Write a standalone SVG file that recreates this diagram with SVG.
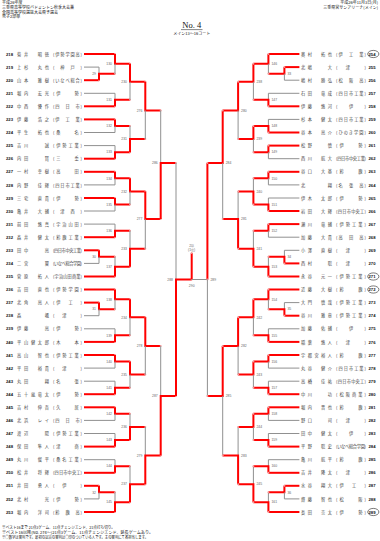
<svg xmlns="http://www.w3.org/2000/svg" width="380" height="541" viewBox="0 0 380 541">
<defs>
<marker id="dot" markerUnits="userSpaceOnUse" markerWidth="4" markerHeight="4" refX="2" refY="2" viewBox="0 0 4 4"><circle cx="2" cy="2" r="1" fill="#f49b9b"/></marker>
<style>
.r{stroke:#f00;stroke-width:2;fill:none;marker-end:url(#dot)}
.g{stroke:#909090;stroke-width:1;fill:none}
.t{font-family:"Noto Sans CJK JP",sans-serif;font-size:4.2px;fill:#444}
.h{font-family:"Noto Sans CJK JP",sans-serif;font-size:4px;fill:#111}
.n{font-family:"Liberation Sans",sans-serif;font-size:4.2px;font-weight:bold;fill:#111}
.m{font-family:"Liberation Sans",sans-serif;font-size:3.4px;fill:#666}
.ml{text-anchor:end}
</style>
</defs>
<rect width="380" height="541" fill="#fff"/>
<g id="header">
<text class="h" x="2" y="4.4">平成26年度</text>
<text class="h" x="2" y="9">三重県高等学校バドミントン秋季大会兼</text>
<text class="h" x="2" y="13.6">全国高等学校選抜大会県予選会</text>
<text class="h" x="2" y="18.2">男子2部単</text>
<text class="h" x="378" y="4.4" text-anchor="end">平成26年11月3日(月)</text>
<text class="h" x="378" y="9" text-anchor="end">三重県営サンアリーナ(メイン)</text>
<text x="191.7" y="28" text-anchor="middle" font-family="Liberation Serif,serif" font-size="8.5" fill="#111">No. 4</text>
<line x1="181" y1="29.6" x2="202.5" y2="29.6" stroke="#111" stroke-width="0.5"/>
<text class="h" x="191.7" y="35" text-anchor="middle" font-size="3.6">メイン13～16コート</text>
</g>
<g id="players-left">
<g id="p218"><text class="n" x="6" y="55.6">218</text><text class="t" x="17" y="55.6" textLength="32" lengthAdjust="spacing">菊井　昭徳</text><text class="t" x="53" y="55.6" textLength="29" lengthAdjust="spacing">(伊勢学園高)</text></g>
<g id="p219"><text class="n" x="6" y="68.7">219</text><text class="t" x="17" y="68.7" textLength="32" lengthAdjust="spacing">上杉　丸也</text><text class="t" x="53" y="68.7" textLength="29" lengthAdjust="spacing">(　神　戸　)</text></g>
<g id="p220"><text class="n" x="6" y="81.8">220</text><text class="t" x="17" y="81.8" textLength="32" lengthAdjust="spacing">山本　雅樹</text><text class="t" x="53" y="81.8" textLength="29" lengthAdjust="spacing">(いなべ総合)</text></g>
<g id="p221"><text class="n" x="6" y="94.9">221</text><text class="t" x="17" y="94.9" textLength="32" lengthAdjust="spacing">堀内　宏光</text><text class="t" x="53" y="94.9" textLength="29" lengthAdjust="spacing">(伊　　勢)</text></g>
<g id="p222"><text class="n" x="6" y="107.9">222</text><text class="t" x="17" y="107.9" textLength="32" lengthAdjust="spacing">中西　優作</text><text class="t" x="53" y="107.9" textLength="29" lengthAdjust="spacing">(四　日　市)</text></g>
<g id="p223"><text class="n" x="6" y="121">223</text><text class="t" x="17" y="121" textLength="32" lengthAdjust="spacing">伊藤　浩之</text><text class="t" x="53" y="121" textLength="29" lengthAdjust="spacing">(伊　工　業)</text></g>
<g id="p224"><text class="n" x="6" y="134.1">224</text><text class="t" x="17" y="134.1" textLength="32" lengthAdjust="spacing">平生　拓也</text><text class="t" x="53" y="134.1" textLength="29" lengthAdjust="spacing">(桑　　名)</text></g>
<g id="p225"><text class="n" x="6" y="147.2">225</text><text class="t" x="17" y="147.2" textLength="32" lengthAdjust="spacing">吉川　　誠</text><text class="t" x="53" y="147.2" textLength="29" lengthAdjust="spacing">(伊勢工業)</text></g>
<g id="p226"><text class="n" x="6" y="160.3">226</text><text class="t" x="17" y="160.3" textLength="32" lengthAdjust="spacing">内田　　賢</text><text class="t" x="53" y="160.3" textLength="29" lengthAdjust="spacing">(三　　重)</text></g>
<g id="p227"><text class="n" x="6" y="173.4">227</text><text class="t" x="17" y="173.4" textLength="32" lengthAdjust="spacing">一村　幸樹</text><text class="t" x="53" y="173.4" textLength="29" lengthAdjust="spacing">(高　　田)</text></g>
<g id="p228"><text class="n" x="6" y="186.5">228</text><text class="t" x="17" y="186.5" textLength="32" lengthAdjust="spacing">内野　佳輝</text><text class="t" x="53" y="186.5" textLength="29" lengthAdjust="spacing">(四日市工業)</text></g>
<g id="p229"><text class="n" x="6" y="199.6">229</text><text class="t" x="17" y="199.6" textLength="32" lengthAdjust="spacing">三宅　直貴</text><text class="t" x="53" y="199.6" textLength="29" lengthAdjust="spacing">(伊　　勢)</text></g>
<g id="p230"><text class="n" x="6" y="212.6">230</text><text class="t" x="17" y="212.6" textLength="32" lengthAdjust="spacing">亀井　大輔</text><text class="t" x="53" y="212.6" textLength="29" lengthAdjust="spacing">(　津　西　)</text></g>
<g id="p231"><text class="n" x="6" y="225.7">231</text><text class="t" x="17" y="225.7" textLength="32" lengthAdjust="spacing">前田　悠真</text><text class="t" x="53" y="225.7" textLength="29" lengthAdjust="spacing">(宇治山田)</text></g>
<g id="p232"><text class="n" x="6" y="238.8">232</text><text class="t" x="17" y="238.8" textLength="32" lengthAdjust="spacing">森井　健太</text><text class="t" x="53" y="238.8" textLength="29" lengthAdjust="spacing">(鈴鹿工業)</text></g>
<g id="p233"><text class="n" x="6" y="251.9">233</text><text class="t" x="17" y="251.9" textLength="32" lengthAdjust="spacing">田中　　亮</text><text class="t" x="53" y="251.9" textLength="29" lengthAdjust="spacing">(四日市中央工業)</text></g>
<g id="p234"><text class="n" x="6" y="265">234</text><text class="t" x="17" y="265" textLength="32" lengthAdjust="spacing">二宮　　翼</text><text class="t" x="53" y="265" textLength="29" lengthAdjust="spacing">(いなべ総合学園)</text></g>
<g id="p235"><text class="n" x="6" y="278.1">235</text><text class="t" x="17" y="278.1" textLength="32" lengthAdjust="spacing">菅原　拓人</text><text class="t" x="53" y="278.1" textLength="29" lengthAdjust="spacing">(宇治山田商業)</text></g>
<g id="p236"><text class="n" x="6" y="291.1">236</text><text class="t" x="17" y="291.1" textLength="32" lengthAdjust="spacing">吉田　直也</text><text class="t" x="53" y="291.1" textLength="29" lengthAdjust="spacing">(伊勢学園)</text></g>
<g id="p237"><text class="n" x="6" y="304.2">237</text><text class="t" x="17" y="304.2" textLength="32" lengthAdjust="spacing">北角　亮人</text><text class="t" x="53" y="304.2" textLength="29" lengthAdjust="spacing">(伊　工　)</text></g>
<g id="p238"><text class="n" x="6" y="317.3">238</text><text class="t" x="17" y="317.3" textLength="32" lengthAdjust="spacing">森　　　颯</text><text class="t" x="53" y="317.3" textLength="29" lengthAdjust="spacing">(　津　　)</text></g>
<g id="p239"><text class="n" x="6" y="330.4">239</text><text class="t" x="17" y="330.4" textLength="32" lengthAdjust="spacing">伊藤　　亮</text><text class="t" x="53" y="330.4" textLength="29" lengthAdjust="spacing">(伊　　勢)</text></g>
<g id="p240"><text class="n" x="6" y="343.5">240</text><text class="t" x="17" y="343.5" textLength="32" lengthAdjust="spacing">平山健太郎</text><text class="t" x="53" y="343.5" textLength="29" lengthAdjust="spacing">(木　　本)</text></g>
<g id="p241"><text class="n" x="6" y="356.6">241</text><text class="t" x="17" y="356.6" textLength="32" lengthAdjust="spacing">高山　智也</text><text class="t" x="53" y="356.6" textLength="29" lengthAdjust="spacing">(伊勢工業)</text></g>
<g id="p242"><text class="n" x="6" y="369.7">242</text><text class="t" x="17" y="369.7" textLength="32" lengthAdjust="spacing">平田　裕貴</text><text class="t" x="53" y="369.7" textLength="29" lengthAdjust="spacing">(　津　　)</text></g>
<g id="p243"><text class="n" x="6" y="382.8">243</text><text class="t" x="17" y="382.8" textLength="32" lengthAdjust="spacing">丸田　　翔</text><text class="t" x="53" y="382.8" textLength="29" lengthAdjust="spacing">(名　　張)</text></g>
<g id="p244"><text class="n" x="6" y="395.8">244</text><text class="t" x="17" y="395.8" textLength="32" lengthAdjust="spacing">五十嵐竜太</text><text class="t" x="53" y="395.8" textLength="29" lengthAdjust="spacing">(伊　　勢)</text></g>
<g id="p245"><text class="n" x="6" y="408.9">245</text><text class="t" x="17" y="408.9" textLength="32" lengthAdjust="spacing">吉村　伸吾</text><text class="t" x="53" y="408.9" textLength="29" lengthAdjust="spacing">(久　　居)</text></g>
<g id="p246"><text class="n" x="6" y="422">246</text><text class="t" x="17" y="422" textLength="32" lengthAdjust="spacing">北浜　レイ</text><text class="t" x="53" y="422" textLength="29" lengthAdjust="spacing">(四　日　市)</text></g>
<g id="p247"><text class="n" x="6" y="435.1">247</text><text class="t" x="17" y="435.1" textLength="32" lengthAdjust="spacing">渡辺　　陽</text><text class="t" x="53" y="435.1" textLength="29" lengthAdjust="spacing">(伊勢工業)</text></g>
<g id="p248"><text class="n" x="6" y="448.2">248</text><text class="t" x="17" y="448.2" textLength="32" lengthAdjust="spacing">保田　隼人</text><text class="t" x="53" y="448.2" textLength="29" lengthAdjust="spacing">(津　　商)</text></g>
<g id="p249"><text class="n" x="6" y="461.3">249</text><text class="t" x="17" y="461.3" textLength="32" lengthAdjust="spacing">丸川　俊平</text><text class="t" x="53" y="461.3" textLength="29" lengthAdjust="spacing">(桑名工業)</text></g>
<g id="p250"><text class="n" x="6" y="474.4">250</text><text class="t" x="17" y="474.4" textLength="32" lengthAdjust="spacing">松井　将輝</text><text class="t" x="53" y="474.4" textLength="29" lengthAdjust="spacing">(四日市中央工)</text></g>
<g id="p251"><text class="n" x="6" y="487.4">251</text><text class="t" x="17" y="487.4" textLength="32" lengthAdjust="spacing">井田　勇人</text><text class="t" x="53" y="487.4" textLength="29" lengthAdjust="spacing">(　伊　　)</text></g>
<g id="p252"><text class="n" x="6" y="500.5">252</text><text class="t" x="17" y="500.5" textLength="32" lengthAdjust="spacing">北村　　光</text><text class="t" x="53" y="500.5" textLength="29" lengthAdjust="spacing">(伊　　勢)</text></g>
<g id="p253"><text class="n" x="6" y="513.6">253</text><text class="t" x="17" y="513.6" textLength="32" lengthAdjust="spacing">堀内　洋司</text><text class="t" x="53" y="513.6" textLength="29" lengthAdjust="spacing">(鈴　鹿　高)</text></g>
</g>
<g id="players-right">
<g id="p254"><text class="t" x="301" y="55.6" textLength="31" lengthAdjust="spacing">奥村　拓也</text><text class="t" x="336" y="55.6" textLength="30" lengthAdjust="spacing">(伊　工　業)</text><text class="n" x="368.5" y="55.6">254</text><ellipse cx="373.3" cy="54" rx="5.6" ry="3.6" fill="none" stroke="#222" stroke-width="0.6"/></g>
<g id="p255"><text class="t" x="301" y="68.7" textLength="31" lengthAdjust="spacing">北嶋　　大</text><text class="t" x="336" y="68.7" textLength="30" lengthAdjust="spacing">(　津　　)</text><text class="n" x="368.5" y="68.7">255</text></g>
<g id="p256"><text class="t" x="301" y="81.8" textLength="31" lengthAdjust="spacing">嶋村　勝弘</text><text class="t" x="336" y="81.8" textLength="30" lengthAdjust="spacing">(松　阪　高)</text><text class="n" x="368.5" y="81.8">256</text></g>
<g id="p257"><text class="t" x="301" y="94.9" textLength="31" lengthAdjust="spacing">石田　竜成</text><text class="t" x="336" y="94.9" textLength="30" lengthAdjust="spacing">(四日市工業)</text><text class="n" x="368.5" y="94.9">257</text></g>
<g id="p258"><text class="t" x="301" y="107.9" textLength="31" lengthAdjust="spacing">伊藤　悠河</text><text class="t" x="336" y="107.9" textLength="30" lengthAdjust="spacing">(　　伊　　)</text><text class="n" x="368.5" y="107.9">258</text></g>
<g id="p259"><text class="t" x="301" y="121" textLength="31" lengthAdjust="spacing">杉本　健太</text><text class="t" x="336" y="121" textLength="30" lengthAdjust="spacing">(四日市工業)</text><text class="n" x="368.5" y="121">259</text></g>
<g id="p260"><text class="t" x="301" y="134.1" textLength="31" lengthAdjust="spacing">谷本　亮介</text><text class="t" x="336" y="134.1" textLength="30" lengthAdjust="spacing">(ひのき学園)</text><text class="n" x="368.5" y="134.1">260</text></g>
<g id="p261"><text class="t" x="301" y="147.2" textLength="31" lengthAdjust="spacing">松野　　慎</text><text class="t" x="336" y="147.2" textLength="30" lengthAdjust="spacing">(伊　　勢)</text><text class="n" x="368.5" y="147.2">261</text></g>
<g id="p262"><text class="t" x="301" y="160.3" textLength="31" lengthAdjust="spacing">西川　航大</text><text class="t" x="336" y="160.3" textLength="30" lengthAdjust="spacing">(四日市中央工業)</text><text class="n" x="368.5" y="160.3">262</text></g>
<g id="p263"><text class="t" x="301" y="173.4" textLength="31" lengthAdjust="spacing">谷口　大基</text><text class="t" x="336" y="173.4" textLength="30" lengthAdjust="spacing">(鈴　　鹿)</text><text class="n" x="368.5" y="173.4">263</text></g>
<g id="p264"><text class="t" x="301" y="186.5" textLength="31" lengthAdjust="spacing">北　　　翔</text><text class="t" x="336" y="186.5" textLength="30" lengthAdjust="spacing">(名　張　高)</text><text class="n" x="368.5" y="186.5">264</text></g>
<g id="p265"><text class="t" x="301" y="199.6" textLength="31" lengthAdjust="spacing">伊木　太郎</text><text class="t" x="336" y="199.6" textLength="30" lengthAdjust="spacing">(伊　　勢)</text><text class="n" x="368.5" y="199.6">265</text></g>
<g id="p266"><text class="t" x="301" y="212.6" textLength="31" lengthAdjust="spacing">岩田　大輝</text><text class="t" x="336" y="212.6" textLength="30" lengthAdjust="spacing">(四日市中央工)</text><text class="n" x="368.5" y="212.6">266</text></g>
<g id="p267"><text class="t" x="301" y="225.7" textLength="31" lengthAdjust="spacing">瀬川　竜輔</text><text class="t" x="336" y="225.7" textLength="30" lengthAdjust="spacing">(伊勢工業)</text><text class="n" x="368.5" y="225.7">267</text></g>
<g id="p268"><text class="t" x="301" y="238.8" textLength="31" lengthAdjust="spacing">加藤　大貴</text><text class="t" x="336" y="238.8" textLength="30" lengthAdjust="spacing">(高　田　高)</text><text class="n" x="368.5" y="238.8">268</text></g>
<g id="p269"><text class="t" x="301" y="251.9" textLength="31" lengthAdjust="spacing">小澤　直樹</text><text class="t" x="336" y="251.9" textLength="30" lengthAdjust="spacing">(　津　　)</text><text class="n" x="368.5" y="251.9">269</text></g>
<g id="p270"><text class="t" x="301" y="265" textLength="31" lengthAdjust="spacing">西村　　聡</text><text class="t" x="336" y="265" textLength="30" lengthAdjust="spacing">(　津　　)</text><text class="n" x="368.5" y="265">270</text></g>
<g id="p271"><text class="t" x="301" y="278.1" textLength="31" lengthAdjust="spacing">永谷　元一</text><text class="t" x="336" y="278.1" textLength="30" lengthAdjust="spacing">(伊勢工業)</text><text class="n" x="368.5" y="278.1">271</text><ellipse cx="373.3" cy="276.5" rx="5.6" ry="3.6" fill="none" stroke="#222" stroke-width="0.6"/></g>
<g id="p272"><text class="t" x="301" y="291.1" textLength="31" lengthAdjust="spacing">近藤　大樹</text><text class="t" x="336" y="291.1" textLength="30" lengthAdjust="spacing">(鈴　　鹿)</text><text class="n" x="368.5" y="291.1">272</text><ellipse cx="373.3" cy="289.5" rx="5.6" ry="3.6" fill="none" stroke="#222" stroke-width="0.6"/></g>
<g id="p273"><text class="t" x="301" y="304.2" textLength="31" lengthAdjust="spacing">大門　慎哉</text><text class="t" x="336" y="304.2" textLength="30" lengthAdjust="spacing">(伊勢工業)</text><text class="n" x="368.5" y="304.2">273</text></g>
<g id="p274"><text class="t" x="301" y="317.3" textLength="31" lengthAdjust="spacing">谷川　雅章</text><text class="t" x="336" y="317.3" textLength="30" lengthAdjust="spacing">(伊勢工業)</text><text class="n" x="368.5" y="317.3">274</text></g>
<g id="p275"><text class="t" x="301" y="330.4" textLength="31" lengthAdjust="spacing">加藤　佑輔</text><text class="t" x="336" y="330.4" textLength="30" lengthAdjust="spacing">(　　伊　　)</text><text class="n" x="368.5" y="330.4">275</text></g>
<g id="p276"><text class="t" x="301" y="343.5" textLength="31" lengthAdjust="spacing">稲葉　悠人</text><text class="t" x="336" y="343.5" textLength="30" lengthAdjust="spacing">(　津　　)</text><text class="n" x="368.5" y="343.5">276</text></g>
<g id="p277"><text class="t" x="301" y="356.6" textLength="31" lengthAdjust="spacing">宇都宮裕人</text><text class="t" x="336" y="356.6" textLength="30" lengthAdjust="spacing">(鈴　　鹿)</text><text class="n" x="368.5" y="356.6">277</text></g>
<g id="p278"><text class="t" x="301" y="369.7" textLength="31" lengthAdjust="spacing">丸谷　健介</text><text class="t" x="336" y="369.7" textLength="30" lengthAdjust="spacing">(四日市工業)</text><text class="n" x="368.5" y="369.7">278</text></g>
<g id="p279"><text class="t" x="301" y="382.8" textLength="31" lengthAdjust="spacing">高橋　佳祐</text><text class="t" x="336" y="382.8" textLength="30" lengthAdjust="spacing">(四日市中央工)</text><text class="n" x="368.5" y="382.8">279</text></g>
<g id="p280"><text class="t" x="301" y="395.8" textLength="31" lengthAdjust="spacing">中川　　功</text><text class="t" x="336" y="395.8" textLength="30" lengthAdjust="spacing">(松阪商業)</text><text class="n" x="368.5" y="395.8">280</text></g>
<g id="p281"><text class="t" x="301" y="408.9" textLength="31" lengthAdjust="spacing">堀内　晋也</text><text class="t" x="336" y="408.9" textLength="30" lengthAdjust="spacing">(鈴　　鹿)</text><text class="n" x="368.5" y="408.9">281</text></g>
<g id="p282"><text class="t" x="301" y="422" textLength="31" lengthAdjust="spacing">野口　　司</text><text class="t" x="336" y="422" textLength="30" lengthAdjust="spacing">(　津　　)</text><text class="n" x="368.5" y="422">282</text></g>
<g id="p283"><text class="t" x="301" y="435.1" textLength="31" lengthAdjust="spacing">田中　健太</text><text class="t" x="336" y="435.1" textLength="30" lengthAdjust="spacing">(　　伊　　)</text><text class="n" x="368.5" y="435.1">283</text></g>
<g id="p284"><text class="t" x="301" y="448.2" textLength="31" lengthAdjust="spacing">平野　聡史</text><text class="t" x="336" y="448.2" textLength="30" lengthAdjust="spacing">(いなべ総合学園)</text><text class="n" x="368.5" y="448.2">284</text></g>
<g id="p285"><text class="t" x="301" y="461.3" textLength="31" lengthAdjust="spacing">亀川　航平</text><text class="t" x="336" y="461.3" textLength="30" lengthAdjust="spacing">(鈴　　鹿)</text><text class="n" x="368.5" y="461.3">285</text></g>
<g id="p286"><text class="t" x="301" y="474.4" textLength="31" lengthAdjust="spacing">吉井　隆太</text><text class="t" x="336" y="474.4" textLength="30" lengthAdjust="spacing">(　津　　)</text><text class="n" x="368.5" y="474.4">286</text></g>
<g id="p287"><text class="t" x="301" y="487.4" textLength="31" lengthAdjust="spacing">水谷　翔大</text><text class="t" x="336" y="487.4" textLength="30" lengthAdjust="spacing">(伊　工　)</text><text class="n" x="368.5" y="487.4">287</text></g>
<g id="p288"><text class="t" x="301" y="500.5" textLength="31" lengthAdjust="spacing">齋藤　智也</text><text class="t" x="336" y="500.5" textLength="30" lengthAdjust="spacing">(松　　阪)</text><text class="n" x="368.5" y="500.5">288</text></g>
<g id="p289"><text class="t" x="301" y="513.6" textLength="31" lengthAdjust="spacing">長田　宗太</text><text class="t" x="336" y="513.6" textLength="30" lengthAdjust="spacing">(伊　　勢)</text><text class="n" x="368.5" y="513.6">289</text><ellipse cx="373.3" cy="512" rx="5.6" ry="3.6" fill="none" stroke="#222" stroke-width="0.6"/></g>
</g>
<g id="connectors">
<path class="r" d="M84 54H115"/><path class="g" d="M84 67.1H99"/><path class="r" d="M84 80.2H99"/>
<path class="g" d="M84 93.3H115"/><path class="r" d="M84 106.3H115"/><path class="r" d="M84 119.4H115"/><path class="g" d="M84 132.5H115"/>
<path class="g" d="M84 145.6H115"/><path class="r" d="M84 158.7H115"/><path class="r" d="M84 171.8H115"/><path class="g" d="M84 184.9H115"/>
<path class="r" d="M84 198H115"/><path class="g" d="M84 211H115"/><path class="g" d="M84 224.1H115"/><path class="r" d="M84 237.2H115"/>
<path class="r" d="M84 250.3H99"/><path class="g" d="M84 263.4H99"/><path class="r" d="M84 276.5H115"/><path class="r" d="M84 289.5H115"/>
<path class="r" d="M84 302.6H99"/><path class="g" d="M84 315.7H99"/><path class="g" d="M84 328.8H115"/><path class="r" d="M84 341.9H115"/>
<path class="r" d="M84 355H115"/><path class="g" d="M84 368.1H115"/><path class="g" d="M84 381.2H115"/><path class="r" d="M84 394.2H115"/>
<path class="r" d="M84 407.3H115"/><path class="g" d="M84 420.4H115"/><path class="g" d="M84 433.5H115"/><path class="r" d="M84 446.6H115"/>
<path class="g" d="M84 459.7H115"/><path class="r" d="M84 472.8H115"/><path class="r" d="M84 485.8H99"/><path class="g" d="M84 498.9H99"/><path class="r" d="M84 512H115"/>
<path class="g" d="M99 67.1V73.65"/><path class="r" d="M99 80.2V73.65H115"/>
<path class="r" d="M99 250.3V256.85H115"/><path class="g" d="M99 263.4V256.85"/>
<path class="r" d="M99 302.6V309.15H115"/><path class="g" d="M99 315.7V309.15"/>
<path class="r" d="M99 485.8V492.35H115"/><path class="g" d="M99 498.9V492.35"/>
<path class="r" d="M115 54V63.8H130"/><path class="g" d="M115 73.65V63.8"/>
<path class="g" d="M115 93.3V99.8"/><path class="r" d="M115 106.3V99.8H130"/>
<path class="r" d="M115 119.4V125.95H130"/><path class="g" d="M115 132.5V125.95"/>
<path class="g" d="M115 145.6V152.15"/><path class="r" d="M115 158.7V152.15H130"/>
<path class="r" d="M115 171.8V178.35H130"/><path class="g" d="M115 184.9V178.35"/>
<path class="r" d="M115 198V204.5H130"/><path class="g" d="M115 211V204.5"/>
<path class="g" d="M115 224.1V230.65"/><path class="r" d="M115 237.2V230.65H130"/>
<path class="g" d="M115 256.85V266.7"/><path class="r" d="M115 276.5V266.7H130"/>
<path class="r" d="M115 289.5V299.3H130"/><path class="g" d="M115 309.15V299.3"/>
<path class="g" d="M115 328.8V335.35"/><path class="r" d="M115 341.9V335.35H130"/>
<path class="r" d="M115 355V361.55H130"/><path class="g" d="M115 368.1V361.55"/>
<path class="g" d="M115 381.2V387.7"/><path class="r" d="M115 394.2V387.7H130"/>
<path class="r" d="M115 407.3V413.85H130"/><path class="g" d="M115 420.4V413.85"/>
<path class="g" d="M115 433.5V440.05"/><path class="r" d="M115 446.6V440.05H130"/>
<path class="g" d="M115 459.7V466.25"/><path class="r" d="M115 472.8V466.25H130"/>
<path class="g" d="M115 492.35V502.2"/><path class="r" d="M115 512V502.2H130"/>
<path class="r" d="M130 63.8V81.8H145.3"/><path class="g" d="M130 99.8V81.8"/>
<path class="g" d="M130 125.95V139.05"/><path class="r" d="M130 152.15V139.05H145.3"/>
<path class="r" d="M130 178.35V191.4H145.3"/><path class="g" d="M130 204.5V191.4"/>
<path class="g" d="M130 230.65V248.7"/><path class="r" d="M130 266.7V248.7H145.3"/>
<path class="r" d="M130 299.3V317.3H145.3"/><path class="g" d="M130 335.35V317.3"/>
<path class="r" d="M130 361.55V374.6H145.3"/><path class="g" d="M130 387.7V374.6"/>
<path class="g" d="M130 413.85V426.95"/><path class="r" d="M130 440.05V426.95H145.3"/>
<path class="g" d="M130 466.25V484.2"/><path class="r" d="M130 502.2V484.2H145.3"/>
<path class="r" d="M145.3 81.8V110.4H160.7"/><path class="g" d="M145.3 139.05V110.4"/>
<path class="r" d="M145.3 191.4V219H160.7"/><path class="g" d="M145.3 248.7V219"/>
<path class="r" d="M145.3 317.3V346H160.7"/><path class="g" d="M145.3 374.6V346"/>
<path class="g" d="M145.3 426.95V455.6"/><path class="r" d="M145.3 484.2V455.6H160.7"/>
<path class="g" d="M160.7 110.4V163"/><path class="r" d="M160.7 219V163H176"/>
<path class="g" d="M160.7 346V396"/><path class="r" d="M160.7 455.6V396H176"/>
<path class="g" d="M176 163V279.5"/><path class="r" d="M176 396V279.5H191.7"/>
<path class="r" d="M191.7 279.5V253"/>
<path class="g" d="M207.4 279.5H191.7"/>
<path class="r" d="M207.4 163V279.5"/><path class="g" d="M207.4 396V279.5"/>
<path class="r" d="M222.7 110.4V163H207.4"/><path class="g" d="M222.7 219V163"/>
<path class="r" d="M222.7 346V396H207.4"/><path class="g" d="M222.7 455.6V396"/>
<path class="r" d="M238.1 81.8V110.4H222.7"/><path class="g" d="M238.1 139.05V110.4"/>
<path class="g" d="M238.1 191.4V219"/><path class="r" d="M238.1 248.7V219H222.7"/>
<path class="r" d="M238.1 317.3V346H222.7"/><path class="g" d="M238.1 374.6V346"/>
<path class="g" d="M238.1 426.95V455.6"/><path class="r" d="M238.1 484.2V455.6H222.7"/>
<path class="r" d="M253.4 63.8V81.8H238.1"/><path class="g" d="M253.4 99.8V81.8"/>
<path class="r" d="M253.4 125.95V139.05H238.1"/><path class="g" d="M253.4 152.15V139.05"/>
<path class="g" d="M253.4 178.35V191.4"/><path class="r" d="M253.4 204.5V191.4H238.1"/>
<path class="g" d="M253.4 230.65V248.7"/><path class="r" d="M253.4 266.7V248.7H238.1"/>
<path class="r" d="M253.4 299.3V317.3H238.1"/><path class="g" d="M253.4 335.35V317.3"/>
<path class="r" d="M253.4 361.55V374.6H238.1"/><path class="g" d="M253.4 387.7V374.6"/>
<path class="r" d="M253.4 413.85V426.95H238.1"/><path class="g" d="M253.4 440.05V426.95"/>
<path class="g" d="M253.4 466.25V484.2"/><path class="r" d="M253.4 502.2V484.2H238.1"/>
<path class="r" d="M268.4 54V63.8H253.4"/><path class="g" d="M268.4 73.65V63.8"/>
<path class="g" d="M268.4 93.3V99.8"/><path class="r" d="M268.4 106.3V99.8H253.4"/>
<path class="g" d="M268.4 119.4V125.95"/><path class="r" d="M268.4 132.5V125.95H253.4"/>
<path class="r" d="M268.4 145.6V152.15H253.4"/><path class="g" d="M268.4 158.7V152.15"/>
<path class="r" d="M268.4 171.8V178.35H253.4"/><path class="g" d="M268.4 184.9V178.35"/>
<path class="g" d="M268.4 198V204.5"/><path class="r" d="M268.4 211V204.5H253.4"/>
<path class="r" d="M268.4 224.1V230.65H253.4"/><path class="g" d="M268.4 237.2V230.65"/>
<path class="g" d="M268.4 256.85V266.7"/><path class="r" d="M268.4 276.5V266.7H253.4"/>
<path class="r" d="M268.4 289.5V299.3H253.4"/><path class="g" d="M268.4 309.15V299.3"/>
<path class="g" d="M268.4 328.8V335.35"/><path class="r" d="M268.4 341.9V335.35H253.4"/>
<path class="r" d="M268.4 355V361.55H253.4"/><path class="g" d="M268.4 368.1V361.55"/>
<path class="g" d="M268.4 381.2V387.7"/><path class="r" d="M268.4 394.2V387.7H253.4"/>
<path class="r" d="M268.4 407.3V413.85H253.4"/><path class="g" d="M268.4 420.4V413.85"/>
<path class="g" d="M268.4 433.5V440.05"/><path class="r" d="M268.4 446.6V440.05H253.4"/>
<path class="g" d="M268.4 459.7V466.25"/><path class="r" d="M268.4 472.8V466.25H253.4"/>
<path class="g" d="M268.4 492.35V502.2"/><path class="r" d="M268.4 512V502.2H253.4"/>
<path class="r" d="M284.4 67.1V73.65H268.4"/><path class="g" d="M284.4 80.2V73.65"/>
<path class="g" d="M284.4 250.3V256.85"/><path class="r" d="M284.4 263.4V256.85H268.4"/>
<path class="g" d="M284.4 302.6V309.15"/><path class="r" d="M284.4 315.7V309.15H268.4"/>
<path class="r" d="M284.4 485.8V492.35H268.4"/><path class="g" d="M284.4 498.9V492.35"/>
<path class="r" d="M299.4 54H268.4"/><path class="r" d="M299.4 67.1H284.4"/><path class="g" d="M299.4 80.2H284.4"/>
<path class="g" d="M299.4 93.3H268.4"/><path class="r" d="M299.4 106.3H268.4"/><path class="g" d="M299.4 119.4H268.4"/><path class="r" d="M299.4 132.5H268.4"/>
<path class="r" d="M299.4 145.6H268.4"/><path class="g" d="M299.4 158.7H268.4"/><path class="r" d="M299.4 171.8H268.4"/><path class="g" d="M299.4 184.9H268.4"/>
<path class="g" d="M299.4 198H268.4"/><path class="r" d="M299.4 211H268.4"/><path class="r" d="M299.4 224.1H268.4"/><path class="g" d="M299.4 237.2H268.4"/>
<path class="g" d="M299.4 250.3H284.4"/><path class="r" d="M299.4 263.4H284.4"/><path class="r" d="M299.4 276.5H268.4"/><path class="r" d="M299.4 289.5H268.4"/>
<path class="g" d="M299.4 302.6H284.4"/><path class="r" d="M299.4 315.7H284.4"/><path class="g" d="M299.4 328.8H268.4"/><path class="r" d="M299.4 341.9H268.4"/>
<path class="r" d="M299.4 355H268.4"/><path class="g" d="M299.4 368.1H268.4"/><path class="g" d="M299.4 381.2H268.4"/><path class="r" d="M299.4 394.2H268.4"/>
<path class="r" d="M299.4 407.3H268.4"/><path class="g" d="M299.4 420.4H268.4"/><path class="g" d="M299.4 433.5H268.4"/><path class="r" d="M299.4 446.6H268.4"/>
<path class="g" d="M299.4 459.7H268.4"/><path class="r" d="M299.4 472.8H268.4"/><path class="r" d="M299.4 485.8H284.4"/><path class="g" d="M299.4 498.9H284.4"/><path class="r" d="M299.4 512H268.4"/>
</g>
<g id="match-labels">
<text class="m ml" x="96" y="74.8">29</text><text class="m ml" x="96" y="258">30</text><text class="m ml" x="96" y="310.3">31</text><text class="m ml" x="96" y="493.5">32</text>
<text class="m ml" x="112" y="65">130</text><text class="m ml" x="112" y="101">131</text><text class="m ml" x="112" y="127.1">132</text><text class="m ml" x="112" y="153.3">133</text>
<text class="m ml" x="112" y="179.5">134</text><text class="m ml" x="112" y="205.7">135</text><text class="m ml" x="112" y="231.8">136</text><text class="m ml" x="112" y="267.9">137</text>
<text class="m ml" x="112" y="300.5">138</text><text class="m ml" x="112" y="336.5">139</text><text class="m ml" x="112" y="362.7">140</text><text class="m ml" x="112" y="388.9">141</text>
<text class="m ml" x="112" y="415">142</text><text class="m ml" x="112" y="441.2">143</text><text class="m ml" x="112" y="467.4">144</text><text class="m ml" x="112" y="503.4">145</text>
<text class="m ml" x="127" y="83">230</text><text class="m ml" x="127" y="140.2">231</text><text class="m ml" x="127" y="192.6">232</text><text class="m ml" x="127" y="249.9">233</text>
<text class="m ml" x="127" y="318.5">234</text><text class="m ml" x="127" y="375.8">235</text><text class="m ml" x="127" y="428.1">236</text><text class="m ml" x="127" y="485.4">237</text>
<text class="m ml" x="142.3" y="111.6">276</text><text class="m ml" x="142.3" y="220.2">277</text><text class="m ml" x="142.3" y="347.2">278</text><text class="m ml" x="142.3" y="456.8">279</text>
<text class="m ml" x="157.7" y="164.2">286</text><text class="m ml" x="157.7" y="397.2">287</text>
<text class="m ml" x="173" y="280.7">288</text>
<text class="m" x="287.4" y="74.8">33</text><text class="m" x="287.4" y="258">34</text><text class="m" x="287.4" y="310.3">35</text><text class="m" x="287.4" y="493.5">36</text>
<text class="m" x="271.4" y="65">146</text><text class="m" x="271.4" y="101">147</text><text class="m" x="271.4" y="127.1">148</text><text class="m" x="271.4" y="153.3">149</text>
<text class="m" x="271.4" y="179.5">150</text><text class="m" x="271.4" y="205.7">151</text><text class="m" x="271.4" y="231.8">152</text><text class="m" x="271.4" y="267.9">153</text>
<text class="m" x="271.4" y="300.5">154</text><text class="m" x="271.4" y="336.5">155</text><text class="m" x="271.4" y="362.7">156</text><text class="m" x="271.4" y="388.9">157</text>
<text class="m" x="271.4" y="415">158</text><text class="m" x="271.4" y="441.2">159</text><text class="m" x="271.4" y="467.4">160</text><text class="m" x="271.4" y="503.4">161</text>
<text class="m" x="256.4" y="83">238</text><text class="m" x="256.4" y="140.2">239</text><text class="m" x="256.4" y="192.6">240</text><text class="m" x="256.4" y="249.9">241</text>
<text class="m" x="256.4" y="318.5">242</text><text class="m" x="256.4" y="375.8">243</text><text class="m" x="256.4" y="428.1">244</text><text class="m" x="256.4" y="485.4">245</text>
<text class="m" x="241.1" y="111.6">280</text><text class="m" x="241.1" y="220.2">281</text><text class="m" x="241.1" y="347.2">282</text><text class="m" x="241.1" y="456.8">283</text>
<text class="m" x="225.7" y="164.2">284</text><text class="m" x="225.7" y="397.2">285</text>
<text class="m" x="210.4" y="280.7">289</text>
<text class="m" x="191.7" y="286.5" text-anchor="middle">290</text>
<text class="m" x="191.7" y="247" text-anchor="middle" font-size="3">2部</text>
<text class="m" x="191.7" y="251" text-anchor="middle" font-size="3">(1位)</text>
</g>
<g id="notes">
<text class="h" x="2" y="529.4" font-size="3.5" textLength="113" lengthAdjust="spacingAndGlyphs">※ベスト16まで 21点3ゲーム、11点チェンジエンド、21点打ち切り。</text>
<text class="h" x="2" y="534" font-size="3.5" textLength="151" lengthAdjust="spacingAndGlyphs">※ベスト16以降(No. 274～)21点3ゲーム、11点チェンジエンド、延長ゲームあり。</text>
<text class="h" x="2" y="538.6" font-size="3.5" textLength="146" lengthAdjust="spacingAndGlyphs">※○数字は審判です。最初の試合の審判は○印のついている人です。主の審判にて各担当します。</text>
</g>
</svg>
